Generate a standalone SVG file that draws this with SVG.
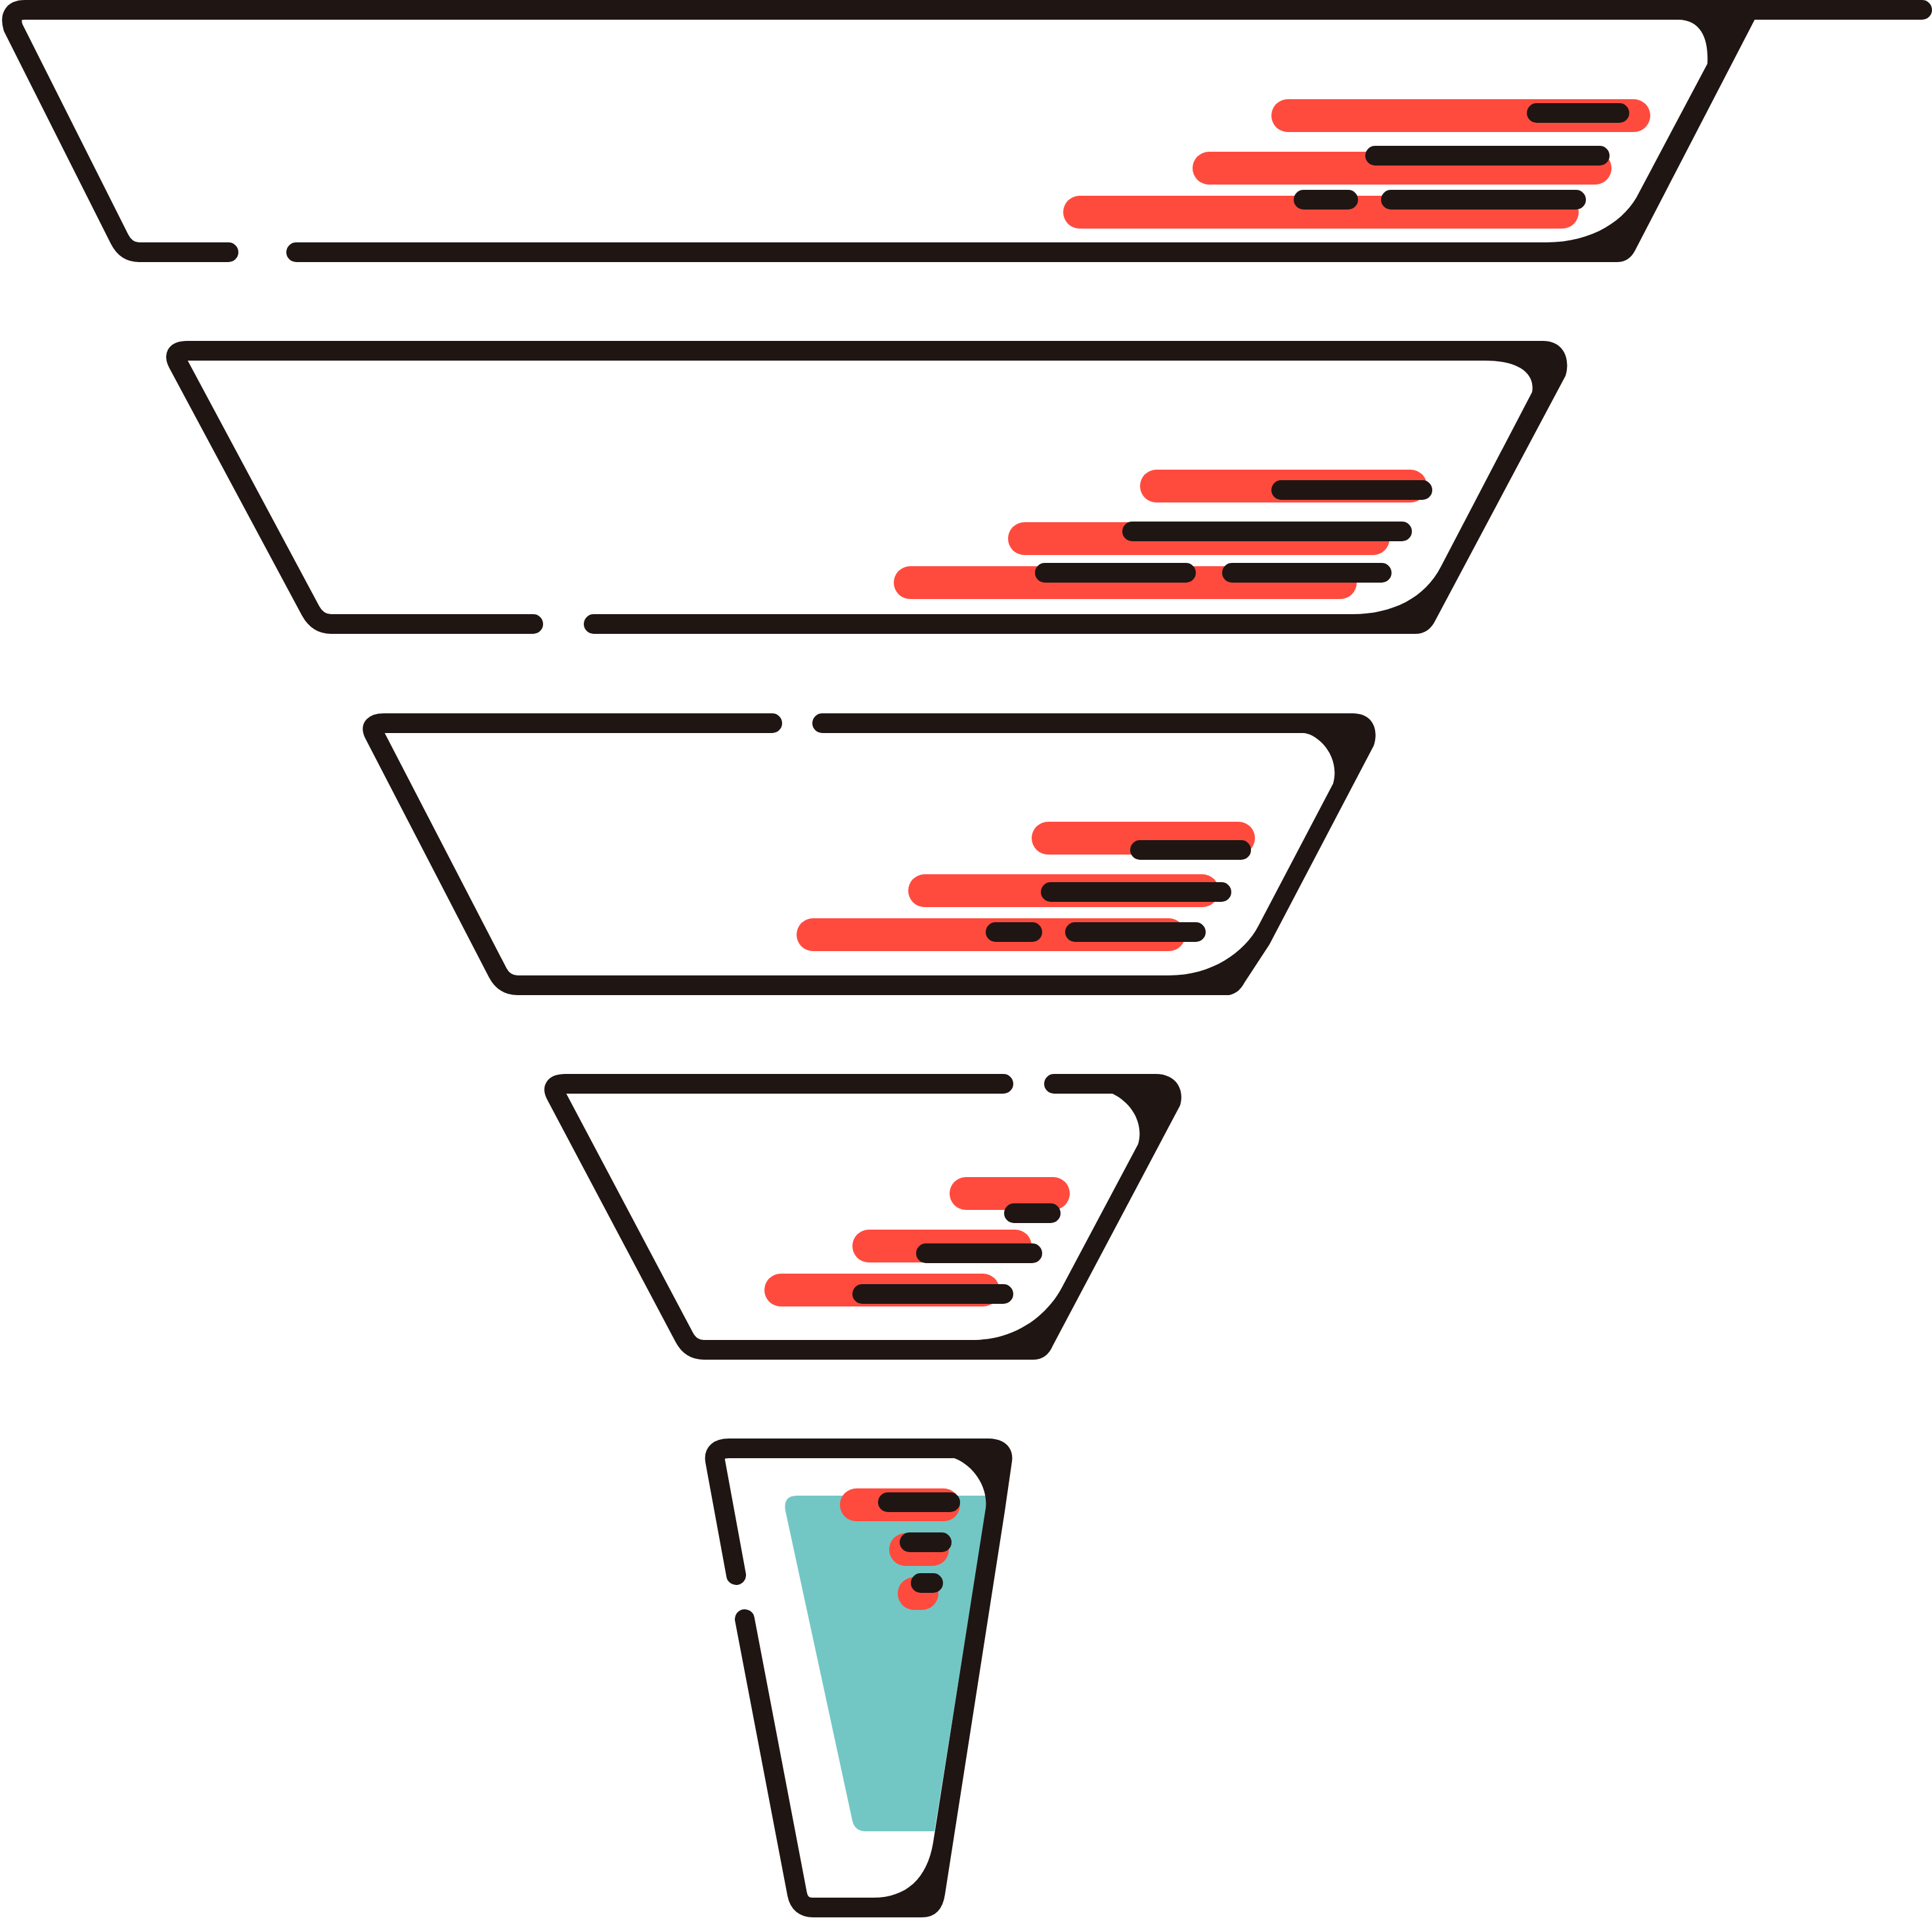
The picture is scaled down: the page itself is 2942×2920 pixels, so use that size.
<svg xmlns="http://www.w3.org/2000/svg" width="2942" height="2920" viewBox="0 0 2942 2920">
<style>
.k{fill:#1f1614}
.r{fill:#ff4b3e}
.t{fill:#72c7c5}
.s{fill:none;stroke:#1f1614;stroke-width:30;stroke-linecap:round;stroke-linejoin:round}
</style>
<rect width="2942" height="2920" fill="#ffffff"/>
<g id="funnel1">
  <rect class="r" x="1936" y="151" width="577" height="50" rx="25"/>
  <rect class="r" x="1816" y="231" width="638" height="50" rx="25"/>
  <rect class="r" x="1619" y="298" width="785" height="50" rx="25"/>
  <rect class="k" x="2325" y="157" width="156" height="30" rx="15"/>
  <rect class="k" x="2079" y="222" width="372" height="30" rx="15"/>
  <rect class="k" x="1970" y="289" width="98" height="30" rx="15"/>
  <rect class="k" x="2103" y="289" width="312" height="30" rx="15"/>
  <path class="s" d="M2927 15 H38 Q12 15 20 42 L182 364 Q192 384 212 384 H348"/>
  <path class="s" d="M451 384 H2360"/>
  <path class="k" d="M2550 28 H2673 L2490 381 Q2481 399 2462 399 H2355 V369 C2425 369 2476 335 2496 293 L2600 97 C2602 62 2592 30 2555 30 Z"/>
</g>
<g id="funnel2">
  <rect class="r" x="1736" y="715" width="437" height="50" rx="25"/>
  <rect class="r" x="1535" y="795" width="581" height="50" rx="25"/>
  <rect class="r" x="1361" y="862" width="705" height="50" rx="25"/>
  <rect class="k" x="1936" y="731" width="245" height="30" rx="15"/>
  <rect class="k" x="1709" y="794" width="441" height="30" rx="15"/>
  <rect class="k" x="1576" y="857" width="245" height="30" rx="15"/>
  <rect class="k" x="1861" y="857" width="258" height="30" rx="15"/>
  <path class="s" d="M2300 534 H285 Q261 534 271 553 L473 930 Q484 950 504 950 H812"/>
  <path class="s" d="M904 950 H2070"/>
  <path class="k" d="M2280 519 H2350 C2380 519 2392 545 2384 572 L2186 944 Q2176 965 2155 965 H2060 V935 C2120 935 2170 910 2194 863 L2333 597 C2338 570 2315 549 2262 549 H2280 Z"/>
</g>
<g id="funnel3">
  <rect class="r" x="1571" y="1251" width="340" height="50" rx="25"/>
  <rect class="r" x="1383" y="1331" width="473" height="50" rx="25"/>
  <rect class="r" x="1213" y="1398" width="592" height="50" rx="25"/>
  <rect class="k" x="1721" y="1279" width="184" height="30" rx="15"/>
  <rect class="k" x="1585" y="1343" width="290" height="30" rx="15"/>
  <rect class="k" x="1501" y="1404" width="86" height="30" rx="15"/>
  <rect class="k" x="1622" y="1404" width="214" height="30" rx="15"/>
  <path class="s" d="M1176 1101 H585 Q561 1101 570 1118 L758 1481 Q768 1500 788 1500 H1870"/>
  <path class="s" d="M1252 1101 H2000"/>
  <path class="k" d="M1990 1086 H2060 C2090 1086 2100 1110 2092 1135 L1933 1438 L1895 1496 Q1885 1515 1867 1515 H1780 V1485 C1845 1485 1895 1450 1916 1410 L2030 1193 C2042 1150 2005 1116 1984 1116 H1990 Z"/>
</g>
<g id="funnel4">
  <rect class="r" x="1446" y="1792" width="183" height="50" rx="25"/>
  <rect class="r" x="1298" y="1872" width="273" height="50" rx="25"/>
  <rect class="r" x="1164" y="1939" width="358" height="50" rx="25"/>
  <rect class="k" x="1529" y="1832" width="86" height="30" rx="15"/>
  <rect class="k" x="1395" y="1893" width="192" height="30" rx="15"/>
  <rect class="k" x="1298" y="1955" width="245" height="30" rx="15"/>
  <path class="s" d="M1528 1650 H861 Q837 1650 847 1668 L1042 2036 Q1052 2055 1072 2055 H1490"/>
  <path class="s" d="M1605 1650 H1700"/>
  <path class="k" d="M1690 1635 H1760 C1792 1635 1804 1660 1797 1683 L1603 2049 Q1594 2070 1573 2070 H1480 V2040 C1550 2040 1595 2000 1616 1962 L1733 1742 C1742 1712 1725 1680 1694 1665 H1690 Z"/>
</g>
<g id="funnel5">
  <path class="t" d="M1214 2277 H1505 L1423 2788 H1318 Q1302 2788 1298 2772 L1196 2300 Q1192 2277 1214 2277 Z"/>
  <rect class="r" x="1279" y="2266" width="183" height="50" rx="25"/>
  <rect class="r" x="1354" y="2334" width="91" height="50" rx="25"/>
  <rect class="r" x="1367" y="2401" width="62" height="50" rx="25"/>
  <rect class="k" x="1337" y="2272" width="125" height="30" rx="15"/>
  <rect class="k" x="1370" y="2333" width="79" height="30" rx="15"/>
  <rect class="k" x="1387" y="2395" width="49" height="30" rx="15"/>
  <path class="s" d="M1450 2205 H1110 Q1086 2205 1089 2224 L1121 2398"/>
  <path class="s" d="M1134 2465 L1214 2884 Q1218 2904 1238 2904 H1350"/>
  <path class="k" d="M1420 2190 H1505 C1530 2190 1544 2205 1541 2225 L1530 2301 L1439 2884 Q1434 2919 1404 2919 H1330 V2889 C1380 2889 1412 2860 1421 2805 L1501 2296 C1505 2262 1480 2228 1450 2219 H1420 Z"/>
</g>
</svg>
